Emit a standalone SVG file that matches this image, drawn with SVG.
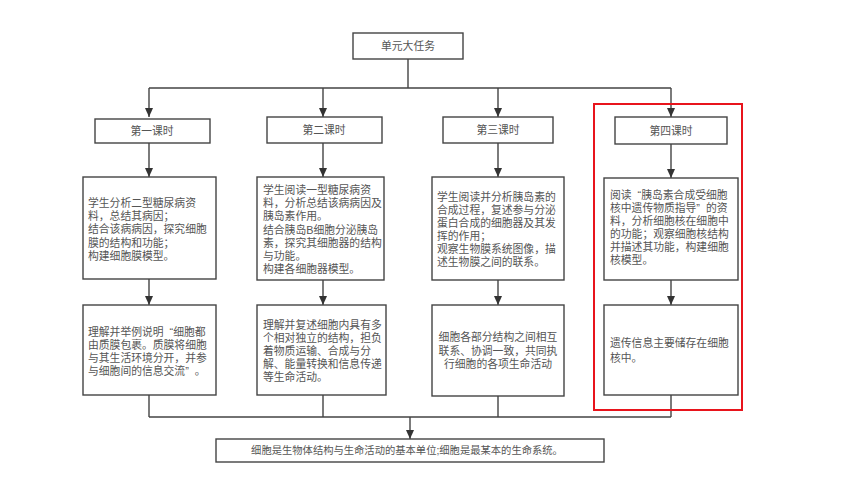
<svg xmlns="http://www.w3.org/2000/svg" width="860" height="484" viewBox="0 0 860 484">
<defs>
<style>
.box{fill:#fff;stroke:#444;stroke-width:1.4}
.ln{fill:none;stroke:#444;stroke-width:1.4}
.t{font-family:"Liberation Sans","Noto Sans CJK SC",sans-serif;font-size:10.8px;fill:#555}
.c{text-anchor:middle}
</style>
<marker id="ah" markerWidth="10" markerHeight="10" viewBox="0 0 10 10" refX="9" refY="5" orient="auto" markerUnits="userSpaceOnUse">
<path d="M0,1 L9,5 L0,9 Z" fill="#333"/>
</marker>
</defs>
<rect width="860" height="484" fill="#fff"/>
<g id="connectors">
<path class="ln" d="M408,59 V88 M149,88 H671"/>
<path class="ln" d="M149,88 V117" marker-end="url(#ah)"/>
<path class="ln" d="M323,88 V117" marker-end="url(#ah)"/>
<path class="ln" d="M498,88 V117" marker-end="url(#ah)"/>
<path class="ln" d="M671,88 V117" marker-end="url(#ah)"/>
<path class="ln" d="M149,143 V177" marker-end="url(#ah)"/>
<path class="ln" d="M323,143 V177" marker-end="url(#ah)"/>
<path class="ln" d="M498,143 V177" marker-end="url(#ah)"/>
<path class="ln" d="M671,144 V178" marker-end="url(#ah)"/>
<path class="ln" d="M149,279 V305" marker-end="url(#ah)"/>
<path class="ln" d="M323,280 V305" marker-end="url(#ah)"/>
<path class="ln" d="M498,280 V305" marker-end="url(#ah)"/>
<path class="ln" d="M671,280 V305" marker-end="url(#ah)"/>
<path class="ln" d="M149,395 V417 M323,395 V417 M498,396 V417 M671,395 V417 M149,417 H671"/>
<path class="ln" d="M410,417 V439" marker-end="url(#ah)"/>
</g>
<g id="task">
<rect class="box" x="353" y="33" width="110" height="26"/>
<text class="t c" x="408" y="50">单元大任务</text>
</g>
<g id="lesson1">
<rect class="box" x="95" y="119" width="115" height="24"/>
<text class="t c" x="152" y="135">第一课时</text>
</g>
<g id="lesson2">
<rect class="box" x="267" y="117" width="115" height="26"/>
<text class="t c" x="324" y="134">第二课时</text>
</g>
<g id="lesson3">
<rect class="box" x="443" y="117" width="110" height="26"/>
<text class="t c" x="498" y="134">第三课时</text>
</g>
<g id="lesson4">
<rect class="box" x="615" y="117" width="112" height="27"/>
<text class="t c" x="671" y="135">第四课时</text>
</g>
<g id="act1">
<rect class="box" x="83" y="177" width="133" height="102"/>
<text class="t" x="88" y="207">学生分析二型糖尿病资</text>
<text class="t" x="88" y="220">料，总结其病因；</text>
<text class="t" x="88" y="233">结合该病病因，探究细胞</text>
<text class="t" x="88" y="247">膜的结构和功能；</text>
<text class="t" x="88" y="260">构建细胞膜模型。</text>
</g>
<g id="act2">
<rect class="box" x="257" y="177" width="127" height="103"/>
<text class="t" x="263" y="194">学生阅读一型糖尿病资</text>
<text class="t" x="263" y="207">料，分析总结该病病因及</text>
<text class="t" x="263" y="220">胰岛素作用。</text>
<text class="t" x="263" y="234">结合胰岛B细胞分泌胰岛</text>
<text class="t" x="263" y="247">素，探究其细胞器的结构</text>
<text class="t" x="263" y="260">与功能。</text>
<text class="t" x="263" y="273">构建各细胞器模型。</text>
</g>
<g id="act3">
<rect class="box" x="432" y="177" width="132" height="103"/>
<text class="t" x="437" y="201">学生阅读并分析胰岛素的</text>
<text class="t" x="437" y="214">合成过程，复述参与分泌</text>
<text class="t" x="437" y="227">蛋白合成的细胞器及其发</text>
<text class="t" x="437" y="240">挥的作用；</text>
<text class="t" x="437" y="253">观察生物膜系统图像，描</text>
<text class="t" x="437" y="266">述生物膜之间的联系。</text>
</g>
<g id="act4">
<rect class="box" x="604" y="178" width="134" height="102"/>
<text class="t" x="610" y="199">阅读<tspan dx="6">“</tspan>胰岛素合成受细胞</text>
<text class="t" x="610" y="212">核中遗传物质指导”<tspan dx="6">的资</tspan></text>
<text class="t" x="610" y="225">料，分析细胞核在细胞中</text>
<text class="t" x="610" y="238">的功能；观察细胞核结构</text>
<text class="t" x="610" y="251">并描述其功能，构建细胞</text>
<text class="t" x="610" y="264">核模型。</text>
</g>
<g id="goal1">
<rect class="box" x="83" y="305" width="133" height="90"/>
<text class="t" x="88" y="336">理解并举例说明<tspan dx="6">“</tspan>细胞都</text>
<text class="t" x="88" y="349">由质膜包裹。质膜将细胞</text>
<text class="t" x="88" y="362">与其生活环境分开，并参</text>
<text class="t" x="88" y="375">与细胞间的信息交流”<tspan dx="6">。</tspan></text>
</g>
<g id="goal2">
<rect class="box" x="257" y="305" width="129" height="90"/>
<text class="t" x="263" y="329">理解并复述细胞内具有多</text>
<text class="t" x="263" y="342">个相对独立的结构，担负</text>
<text class="t" x="263" y="355">着物质运输、合成与分</text>
<text class="t" x="263" y="368">解、能量转换和信息传递</text>
<text class="t" x="263" y="381">等生命活动。</text>
</g>
<g id="goal3">
<rect class="box" x="432" y="305" width="132" height="91"/>
<text class="t c" x="498" y="341">细胞各部分结构之间相互</text>
<text class="t c" x="498" y="355">联系、协调一致，共同执</text>
<text class="t c" x="498" y="368">行细胞的各项生命活动</text>
</g>
<g id="goal4">
<rect class="box" x="604" y="305" width="134" height="90"/>
<text class="t" x="610" y="347">遗传信息主要储存在细胞</text>
<text class="t" x="610" y="362">核中。</text>
</g>
<g id="highlight">
<rect x="594" y="104" width="148" height="306" fill="none" stroke="#e8141c" stroke-width="2"/>
</g>
<g id="conclusion">
<rect class="box" x="216" y="439" width="388" height="23"/>
<text class="t c" x="407" y="454" style="font-size:10.3px">细胞是生物体结构与生命活动的基本单位;细胞是最某本的生命系统。</text>
</g>
</svg>
